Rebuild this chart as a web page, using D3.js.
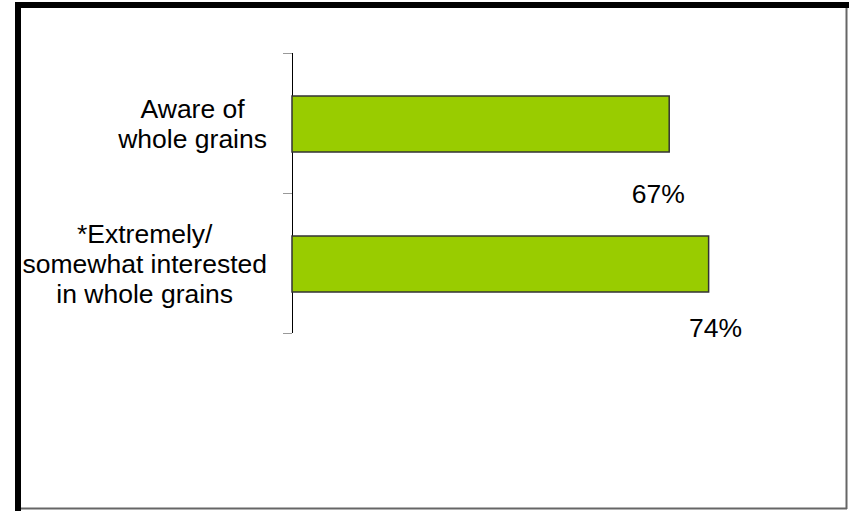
<!DOCTYPE html>
<html>
<head>
<meta charset="utf-8">
<script src="https://cdn.jsdelivr.net/npm/d3@7"></script>
<style>
  body { margin: 0; background: #fff; }
  svg { display: block; font-family: "Liberation Sans", Arial, sans-serif; }
</style>
</head>
<body>
<svg id="chart" width="849" height="511"></svg>
<script>
// DATA
let categories = ["Aware of\nwhole grains", "*Extremely/\nsomewhat interested\nin whole grains"]
let values = [67, 74]
let valueLabels = ["67%", "74%"]

let svg = d3.select("#chart")

// FRAME (heavy black top/left, thin grey bottom/right)
svg.append("rect").attr("x", 15).attr("y", 2).attr("width", 834).attr("height", 6).attr("fill", "#000")
svg.append("rect").attr("x", 15).attr("y", 2).attr("width", 6).attr("height", 509).attr("fill", "#000")
svg.append("line").attr("x1", 846.5).attr("x2", 846.5).attr("y1", 8).attr("y2", 509).attr("stroke", "#666").attr("stroke-width", 2)
svg.append("line").attr("x1", 21).attr("x2", 847).attr("y1", 508.5).attr("y2", 508.5).attr("stroke", "#666").attr("stroke-width", 2)

// SCALES
let x = d3.scaleLinear().domain([0, 100]).range([292, 855])
let y = d3.scaleBand().domain(categories).range([54, 334]).paddingInner(0.6).paddingOuter(0.3)

// Y AXIS (category ticks sit on band boundaries)
let axis = svg.append("g")
axis.append("line")
    .attr("x1", 292.5).attr("x2", 292.5)
    .attr("y1", y.range()[0] - 1).attr("y2", y.range()[1] - 1)
    .attr("stroke", "#000").attr("stroke-width", 1)

let boundaries = categories.map(c => y(c) - y.step() * 0.3).concat([y.range()[1]])
axis.selectAll(".tick")
    .data(boundaries)
    .enter()
    .append("line")
        .attr("x1", 283).attr("x2", 292)
        .attr("y1", d => Math.round(d) - 0.5).attr("y2", d => Math.round(d) - 0.5)
        .attr("stroke", "#999").attr("stroke-width", 1)

// BARS
svg.selectAll(".bar")
    .data(values)
    .enter()
    .append("rect")
        .classed("bar", true)
        .attr("x", x(0))
        .attr("y", (d, i) => y(categories[i]))
        .attr("width", d => x(d) - x(0))
        .attr("height", y.bandwidth())
        .attr("fill", "#99cc00")
        .attr("stroke", "#333")
        .attr("stroke-width", 1.5)

// CATEGORY LABELS (lines centred within a right aligned block)
let fontSize = 26.5
let lineH = 30
categories.forEach((c, i) => {
    let lines = c.split("\n")
    let g = svg.append("g")
    let texts = g.selectAll("text")
        .data(lines)
        .enter()
        .append("text")
            .attr("font-size", fontSize)
            .attr("fill", "#000")
            .attr("text-anchor", "middle")
            .text(d => d)
    let maxW = d3.max(texts.nodes(), n => n.getComputedTextLength())
    let cx = 267 - maxW / 2
    let mid = y(c) + y.bandwidth() / 2
    let firstBase = mid - (lines.length - 1) * lineH / 2 + 9
    texts.attr("x", cx).attr("y", (d, j) => firstBase + j * lineH)
})

// VALUE LABELS (placed below each bar as in the original)
let labelDx = [-11, 7]
let labelDy = [51, 45]
svg.selectAll(".val")
    .data(values)
    .enter()
    .append("text")
        .classed("val", true)
        .attr("x", (d, i) => x(d) + labelDx[i])
        .attr("y", (d, i) => y(categories[i]) + y.bandwidth() + labelDy[i])
        .attr("text-anchor", "middle")
        .attr("font-size", fontSize)
        .attr("fill", "#000")
        .text((d, i) => valueLabels[i])
</script>
</body>
</html>
